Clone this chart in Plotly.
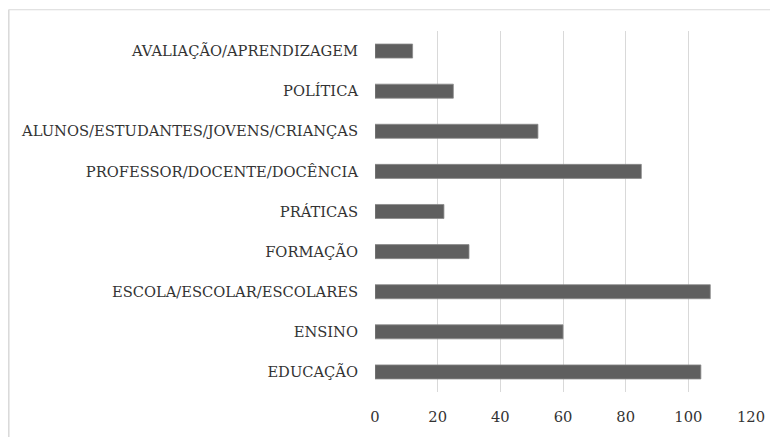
import plotly.graph_objects as go

categories = [
    "EDUCAÇÃO",
    "ENSINO",
    "ESCOLA/ESCOLAR/ESCOLARES",
    "FORMAÇÃO",
    "PRÁTICAS",
    "PROFESSOR/DOCENTE/DOCÊNCIA",
    "ALUNOS/ESTUDANTES/JOVENS/CRIANÇAS",
    "POLÍTICA",
    "AVALIAÇÃO/APRENDIZAGEM",
]
values = [104, 60, 107, 30, 22, 85, 52, 25, 12]
x_ticks = [0, 20, 40, 60, 80, 100, 120]

# page has an 8px body margin, so the figure is offset by (8, 8)
OFF = 8
W, H = 770, 429
L, R, T, B = 375 - OFF, 27, 31 - OFF, 41
pw, ph = W - L - R, H - T - B

def px_x(px):
    return (px - OFF - L) / pw

def px_y(py):
    return (H - B - (py - OFF)) / ph

fig = go.Figure(go.Bar(
    x=values, y=categories, orientation="h",
    marker=dict(color="#5f5f5f", line=dict(color="#8a8a8a", width=0.8)),
    width=0.35,
))

fig.update_layout(
    width=W, height=H,
    margin=dict(l=L, r=R, t=T, b=B),
    paper_bgcolor="white", plot_bgcolor="white",
    font=dict(family="DejaVu Serif", size=14.7, color="#333333"),
    showlegend=False,
    xaxis=dict(range=[0, 120], tickvals=x_ticks, showgrid=True, gridcolor="#d9d9d9",
               gridwidth=1.2, zeroline=False, showline=False, ticks="", ticklabelstandoff=14,
               fixedrange=True),
    yaxis=dict(categoryorder="array", categoryarray=categories, showgrid=False,
               zeroline=False, showline=False, ticks="", ticklabelstandoff=16,
               range=[-0.5, len(categories) - 0.5]),
    shapes=[
        dict(type="line", xref="paper", yref="paper", x0=px_x(8.5), x1=px_x(800),
             y0=px_y(9.5), y1=px_y(9.5), line=dict(color="#d9d9d9", width=1)),
        dict(type="line", xref="paper", yref="paper", x0=px_x(8.8), x1=px_x(8.8),
             y0=px_y(9.5), y1=px_y(460), line=dict(color="#d9d9d9", width=1.5)),
    ],
)

fig.write_html("out.html")
